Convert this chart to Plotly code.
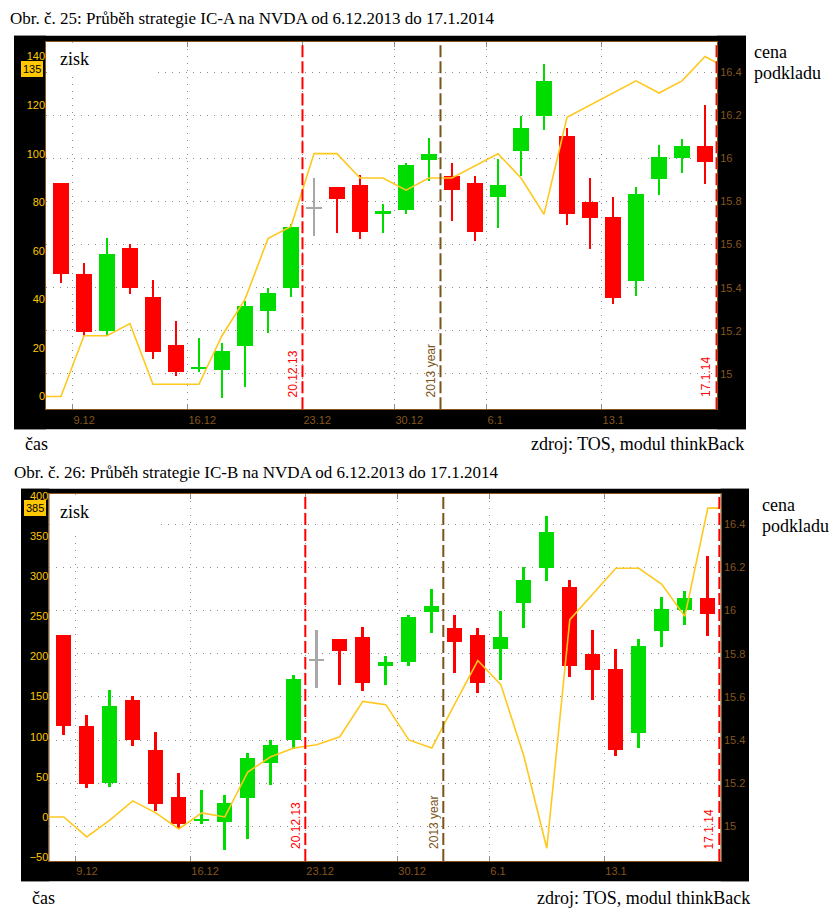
import plotly.graph_objects as go

W, H = 836, 915

# ---------------- data ----------------
dates = ["6.12", "9.12", "10.12", "11.12", "12.12", "13.12", "16.12", "17.12", "18.12", "19.12",
         "20.12", "23.12", "24.12", "26.12", "27.12", "30.12", "31.12", "2.1", "3.1", "6.1",
         "7.1", "8.1", "9.1", "10.1", "13.1", "14.1", "15.1", "16.1", "17.1"]

price_open = [15.886, 15.467, 15.201, 15.587, 15.356, 15.135, 15.024, 15.021, 15.130, 15.292,
              15.402, 15.771, 15.868, 15.877, 15.745, 15.763, 15.994, 15.918, 15.886, 15.823,
              16.035, 16.196, 16.107, 15.799, 15.729, 15.431, 15.906, 16.001, 16.057]
price_high = [15.886, 15.518, 15.630, 15.606, 15.436, 15.247, 15.167, 15.144, 15.341, 15.398,
              15.699, 15.909, 15.868, 15.922, 15.791, 15.978, 16.098, 15.978, 15.918, 15.998,
              16.200, 16.439, 16.140, 15.909, 15.822, 15.868, 16.061, 16.089, 16.250]
price_low = [15.422, 15.178, 15.182, 15.371, 15.071, 14.994, 15.011, 14.891, 14.941, 15.190,
             15.359, 15.643, 15.653, 15.625, 15.653, 15.745, 15.897, 15.712, 15.616, 15.676,
             15.918, 16.135, 15.694, 15.583, 15.325, 15.362, 15.831, 15.932, 15.882]
price_close = [15.464, 15.196, 15.559, 15.402, 15.103, 15.011, 15.035, 15.107, 15.315, 15.375,
               15.683, 15.771, 15.814, 15.662, 15.759, 15.969, 16.020, 15.855, 15.662, 15.877,
               16.140, 16.361, 15.745, 15.726, 15.353, 15.836, 16.006, 16.057, 15.983]

# profit line: one value before the first day, one per day, one after the last day
profit_a = [0, 0, 25, 25, 30, 5, 5, 5, 25, 40, 65, 70, 100, 100, 90, 90, 85, 90, 90, 95, 100,
            90, 75, 115, 120, 125, 130, 125, 130, 140, 135]
profit_b = [0, 0, -25, -4, 20, 5, -15, 5, 0, 56, 75, 86, 90, 100, 144, 140, 96, 86, 141, 195,
            165, 76, -39, 246, 278, 310, 310, 290, 250, 385, 385]

x_tick_labels = ["9.12", "16.12", "23.12", "30.12", "6.1", "13.1"]
price_ticks = [15.0, 15.2, 15.4, 15.6, 15.8, 16.0, 16.2, 16.4]
price_tick_text = ["15", "15.2", "15.4", "15.6", "15.8", "16", "16.2", "16.4"]
profit_ticks_a = [0, 20, 40, 60, 80, 100, 120, 140]
profit_ticks_b = [-50, 0, 50, 100, 150, 200, 250, 300, 350, 400]

# vertical markers: (date after which the line is drawn, label, colour)
events = [("20.12", "20.12.13", "#ff0000"), ("31.12", "2013 year", "#7a5418"), ("17.1", "17.1.14", "#ff0000")]

titles = ["Obr. č. 25: Průběh strategie IC-A na NVDA od 6.12.2013 do 17.1.2014",
          "Obr. č. 26: Průběh strategie IC-B na NVDA od 6.12.2013 do 17.1.2014"]

# ---------------- styles ----------------
GREEN = "#00dc00"
RED = "#ff0000"
GRAY = "#a8a8a8"
GOLD = "#ffc800"
LINEY = "#ffc81e"
BROWN = "#86561c"
GRID = "#8c8c8c"
SERIF = "Liberation Serif"
SANS = "Liberation Sans"


def px(x):
    return x / W


def py(y):
    return 1 - y / H


n = len(dates)
xs = list(range(n))
line_x = list(range(-1, n + 1))
tick_pos = [dates.index(t) - 0.5 for t in x_tick_labels]

colors = []
body_base = []
body_h = []
for o, c in zip(price_open, price_close):
    colors.append(GREEN if c > o else (RED if c < o else GRAY))
    h = max(abs(c - o), 0.012)
    body_h.append(h)
    body_base.append((o + c) / 2 - h / 2)
wick_h = [hi - lo for hi, lo in zip(price_high, price_low)]

fig = go.Figure()

panels = [
    dict(xa="x", ya="y", yb="y2", profit=profit_a, ticks=profit_ticks_a,
         box=(46, 38, 717, 408), frame=(14, 32, 746, 428),
         prange=[-5.3, 146.1], crange=[14.836, 16.541], xrange=[-0.65, 28.52],
         title_xy=(8, 15), zisk=(58, 55), zbox=(47, 39, 158, 71), cena=(752, 48), cas_y=443,
         cas_x=23, zdroj_x=746),
    dict(xa="x2", ya="y3", yb="y4", profit=profit_b, ticks=profit_ticks_b,
         box=(49.3, 493.3, 720.7, 862.7), frame=(21, 488, 749, 883),
         prange=[-55, 402.5], crange=[14.840, 16.539], xrange=[-0.63, 28.56],
         title_xy=(12, 472), zisk=(58, 511), zbox=(50, 494, 155, 530), cena=(760, 504), cas_y=900,
         cas_x=30, zdroj_x=752),
]

shapes = []
annotations = []

for k, p in enumerate(panels):
    # wicks
    fig.add_trace(go.Bar(x=xs, y=wick_h, base=price_low, width=0.09, marker=dict(color=colors, line=dict(width=0)),
                         xaxis=p["xa"], yaxis=p["ya"], hoverinfo="skip"))
    # bodies
    fig.add_trace(go.Bar(x=xs, y=body_h, base=body_base, width=0.69, marker=dict(color=colors, line=dict(width=0)),
                         xaxis=p["xa"], yaxis=p["ya"], hoverinfo="skip"))
    # profit line
    fig.add_trace(go.Scatter(x=line_x, y=p["profit"], mode="lines", line=dict(color=LINEY, width=1.6),
                             xaxis=p["xa"], yaxis=p["yb"], hoverinfo="skip"))

    x0, y0, x1, y1 = p["box"]
    fx0, fy0, fx1, fy1 = p["frame"]
    # black frame as four strips
    for (a, b, c, d) in [(fx0, fy0, fx1, y0), (fx0, y1, fx1, fy1), (fx0, fy0, x0, fy1), (x1, fy0, fx1, fy1)]:
        shapes.append(dict(type="rect", xref="paper", yref="paper", x0=px(a), x1=px(c), y0=py(d), y1=py(b),
                           fillcolor="black", line=dict(width=0), layer="below"))
    # white area behind "zisk"
    zx0, zy0, zx1, zy1 = p["zbox"]
    shapes.append(dict(type="rect", xref="paper", yref="paper", x0=px(zx0), x1=px(zx1), y0=py(zy1), y1=py(zy0),
                       fillcolor="white", line=dict(width=0), layer="above"))
    # event lines
    xdom = p["xa"]
    ydom = p["ya"] + " domain"
    for d, label, col in events:
        xe = dates.index(d) + 0.5
        shapes.append(dict(type="line", xref=xdom, yref=ydom, x0=xe, x1=xe, y0=0, y1=1,
                           line=dict(color=col, width=2, dash="12px,4px"), layer="above"))
        annotations.append(dict(x=xe, y=0.027, xref=xdom, yref=ydom, text=label, showarrow=False,
                                textangle=-90, xanchor="right", yanchor="bottom", xshift=-1,
                                font=dict(family=SANS, size=12, color=col)))

    # texts
    annotations.append(dict(x=px(p["title_xy"][0]), y=py(p["title_xy"][1]), xref="paper", yref="paper",
                            text=titles[k], showarrow=False, xanchor="left", yanchor="middle",
                            font=dict(family=SERIF, size=17, color="black")))
    annotations.append(dict(x=px(p["zisk"][0]), y=py(p["zisk"][1]), xref="paper", yref="paper",
                            text="zisk", showarrow=False, xanchor="left", yanchor="middle",
                            font=dict(family=SERIF, size=18, color="black")))
    annotations.append(dict(x=px(p["cena"][0]), y=py(p["cena"][1]), xref="paper", yref="paper",
                            text="cena", showarrow=False, xanchor="left", yanchor="middle",
                            font=dict(family=SERIF, size=18, color="black")))
    annotations.append(dict(x=px(p["cena"][0]), y=py(p["cena"][1] + 21), xref="paper", yref="paper",
                            text="podkladu", showarrow=False, xanchor="left", yanchor="middle",
                            font=dict(family=SERIF, size=18, color="black")))
    annotations.append(dict(x=px(p["cas_x"]), y=py(p["cas_y"]), xref="paper", yref="paper",
                            text="čas", showarrow=False, xanchor="left", yanchor="middle",
                            font=dict(family=SERIF, size=18, color="black")))
    annotations.append(dict(x=px(p["zdroj_x"]), y=py(p["cas_y"]), xref="paper", yref="paper",
                            text="zdroj: TOS, modul thinkBack", showarrow=False, xanchor="right", yanchor="middle",
                            font=dict(family=SERIF, size=18, color="black")))
    # current profit marker
    annotations.append(dict(x=px(x0 - 3), y=p["profit"][-1], xref="paper", yref=p["yb"],
                            text=str(p["profit"][-1]), showarrow=False, xanchor="right", yanchor="middle",
                            bgcolor=GOLD, bordercolor=GOLD, borderpad=1,
                            font=dict(family=SANS, size=11, color="black")))

    # axes
    xname = "xaxis" if p["xa"] == "x" else "xaxis" + p["xa"][1:]
    yname = "yaxis" if p["ya"] == "y" else "yaxis" + p["ya"][1:]
    y2name = "yaxis" + p["yb"][1:]
    fig.update_layout(**{
        xname: dict(domain=[px(x0), px(x1)], range=p["xrange"], anchor=p["ya"],
                    tickmode="array", tickvals=tick_pos, ticktext=x_tick_labels,
                    ticklabelposition="outside right",
                    tickfont=dict(family=SANS, size=11, color=BROWN),
                    ticks="inside", ticklen=5, tickcolor=GRID,
                    showgrid=True, gridcolor=GRID, griddash="1px,6px", gridwidth=1,
                    showline=True, linecolor=BROWN, linewidth=1, mirror="ticks", zeroline=False,
                    fixedrange=True),
        yname: dict(domain=[py(y1), py(y0)], range=p["crange"], anchor=p["xa"], side="right",
                    tickmode="array", tickvals=price_ticks, ticktext=price_tick_text,
                    tickfont=dict(family=SANS, size=11, color=BROWN), ticks="",
                    showgrid=True, gridcolor=GRID, griddash="1px,6px", gridwidth=1,
                    showline=True, linecolor=BROWN, linewidth=1, mirror=True, zeroline=False),
        y2name: dict(overlaying=p["ya"], anchor=p["xa"], side="left", range=p["prange"],
                     tickmode="array", tickvals=p["ticks"],
                     tickfont=dict(family=SANS, size=11, color=GOLD), ticks="",
                     showgrid=False, zeroline=False, showline=False),
    })

fig.update_layout(width=W, height=H, margin=dict(l=0, r=0, t=0, b=0),
                  paper_bgcolor="white", plot_bgcolor="white", showlegend=False,
                  barmode="overlay", bargap=0, shapes=shapes, annotations=annotations)

fig.write_html("out.html")
